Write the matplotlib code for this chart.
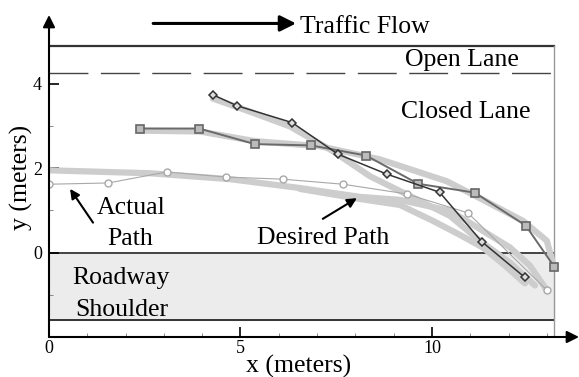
import numpy as np
import matplotlib
matplotlib.use('Agg')
import matplotlib.pyplot as plt

plt.rcParams['font.family'] = ['Liberation Serif', 'DejaVu Serif']

# actual paths (markers)
diamond_x = [4.28, 4.91, 6.35, 7.55, 8.82, 10.2, 11.3, 12.43]
diamond_y = [3.74, 3.48, 3.08, 2.33, 1.86, 1.43, 0.26, -0.59]

square_x = [2.38, 3.92, 5.38, 6.84, 8.28, 9.64, 11.12, 12.45, 13.19]
square_y = [2.94, 2.94, 2.57, 2.54, 2.30, 1.63, 1.42, 0.64, -0.33]

circle_x = [0.0, 1.55, 3.07, 4.62, 6.10, 7.68, 9.34, 10.94, 13.0]
circle_y = [1.62, 1.65, 1.91, 1.79, 1.74, 1.62, 1.39, 0.94, -0.89]

# desired paths (thick grey)
des_s_x = [2.38, 3.94, 5.38, 7.08, 8.64, 10.39, 11.25, 12.38, 13.0, 13.16]
des_s_y = [2.89, 2.87, 2.64, 2.52, 2.21, 1.69, 1.29, 0.75, 0.28, -0.26]

des_d_x = [4.28, 5.25, 6.29, 7.42, 8.38, 9.43, 10.47, 11.25, 12.04, 12.69]
des_d_y = [3.65, 3.34, 2.99, 2.40, 1.81, 1.34, 0.87, 0.28, -0.24, -0.78]

des_c_x = [0.0, 2.64, 4.73, 6.55, 8.12, 9.16, 10.47, 11.25, 12.04, 12.56, 13.0]
des_c_y = [1.95, 1.88, 1.74, 1.53, 1.32, 1.25, 0.99, 0.56, 0.12, -0.31, -0.89]

des_e_x = [6.55, 8.12, 9.16, 10.03, 10.73, 11.33, 11.91, 12.43]
des_e_y = [1.51, 1.27, 1.13, 0.75, 0.42, 0.12, -0.31, -0.73]

# road geometry
x_end = 13.2
road_top = 4.9
lane_divider = 4.25
road_edge = 0.0
shoulder_edge = -1.6

fig = plt.figure(figsize=(5.79, 3.77), dpi=100)
ax = fig.add_axes([49/579, 40/377, 530/579, 322/377])
ax.set_xlim(0, 13.84)
ax.set_ylim(-2.0, 5.63)

# shoulder
ax.fill_between([0, x_end], shoulder_edge, road_edge, color='#ececec', zorder=0)
ax.plot([0, x_end], [road_edge, road_edge], color='#444444', lw=1.4, zorder=1)
ax.plot([0, x_end], [shoulder_edge, shoulder_edge], color='#333333', lw=1.4, zorder=1)
ax.plot([0, x_end], [road_top, road_top], color='#333333', lw=1.6, zorder=1)
ax.plot([0, x_end], [lane_divider, lane_divider], color='#444444', lw=1.0,
        dashes=(28, 9), zorder=1)
ax.plot([x_end, x_end], [-2.0, road_top], color='#999999', lw=1.0, zorder=1)

# desired paths
for xs, ys in [(des_s_x, des_s_y), (des_d_x, des_d_y), (des_c_x, des_c_y), (des_e_x, des_e_y)]:
    ax.plot(xs, ys, color='#cdcdcd', lw=4.5, solid_capstyle='round', zorder=2)

# actual paths
ax.plot(circle_x, circle_y, color='#a8a8a8', lw=0.8, marker='o', ms=5,
        mfc='white', mec='#a8a8a8', mew=1, zorder=3)
ax.plot(square_x, square_y, color='#6a6a6a', lw=1.4, marker='s', ms=5.5,
        mfc='#bbbbbb', mec='#666666', mew=1.2, zorder=4)
ax.plot(diamond_x, diamond_y, color='#333333', lw=1.1, marker='D', ms=4.5,
        mfc='#dddddd', mec='#333333', mew=1.1, zorder=5)

# axes with arrows
for s in ['top', 'right', 'left', 'bottom']:
    ax.spines[s].set_visible(False)
ax.annotate('', xy=(1.0, 0.0), xytext=(0.0, 0.0), xycoords='axes fraction',
            arrowprops=dict(arrowstyle='-|>', color='black', lw=1.5,
                            mutation_scale=18, shrinkA=0, shrinkB=0),
            annotation_clip=False)
ax.annotate('', xy=(0.0, 1.0), xytext=(0.0, 0.0), xycoords='axes fraction',
            arrowprops=dict(arrowstyle='-|>', color='black', lw=1.5,
                            mutation_scale=18, shrinkA=0, shrinkB=0),
            annotation_clip=False)

ax.set_xticks([0, 5, 10])
ax.set_yticks([0, 2, 4])
ax.set_xticks(np.arange(1, 14, 1), minor=True)
ax.set_yticks([-1, 1, 3], minor=True)
ax.tick_params(which='major', direction='in', length=7, width=1.2, labelsize=13,
               color='black')
ax.tick_params(which='minor', direction='in', length=3, width=0.6, color='#777777')
ax.tick_params(axis='x', pad=2)
ax.tick_params(axis='y', pad=5)
ax.text(0.47, -0.092, 'x (meters)', fontsize=18.5, ha='center', va='center',
        transform=ax.transAxes)
ax.text(-0.052, 0.497, 'y (meters)', fontsize=18.5, ha='center', va='center',
        rotation=90, transform=ax.transAxes)

# labels
ax.annotate('', xy=(6.45, 5.43), xytext=(2.72, 5.43),
            arrowprops=dict(arrowstyle='-|>', color='black', lw=2.2,
                            mutation_scale=24, shrinkA=0, shrinkB=0),
            annotation_clip=False)
ax.text(6.55, 5.21, 'Traffic Flow', fontsize=18.5, ha='left', va='baseline')
ax.text(10.78, 4.43, 'Open Lane', fontsize=18.5, ha='center', va='baseline')
ax.text(10.89, 3.18, 'Closed Lane', fontsize=18.5, ha='center', va='baseline')
ax.text(2.14, 0.92, 'Actual', fontsize=18.5, ha='center', va='baseline')
ax.text(2.11, 0.17, 'Path', fontsize=18.5, ha='center', va='baseline')
ax.text(7.15, 0.21, 'Desired Path', fontsize=18.5, ha='center', va='baseline')
ax.text(0.60, -0.74, 'Roadway', fontsize=18.5, ha='left', va='baseline')
ax.text(0.68, -1.50, 'Shoulder', fontsize=18.5, ha='left', va='baseline')

ax.annotate('', xy=(0.55, 1.51), xytext=(1.15, 0.71),
            arrowprops=dict(arrowstyle='-|>', color='black', lw=1.5,
                            mutation_scale=14, shrinkA=0, shrinkB=0))
ax.annotate('', xy=(8.04, 1.29), xytext=(7.15, 0.80),
            arrowprops=dict(arrowstyle='-|>', color='black', lw=1.5,
                            mutation_scale=14, shrinkA=0, shrinkB=0))

fig.savefig('out.png', dpi=100)
